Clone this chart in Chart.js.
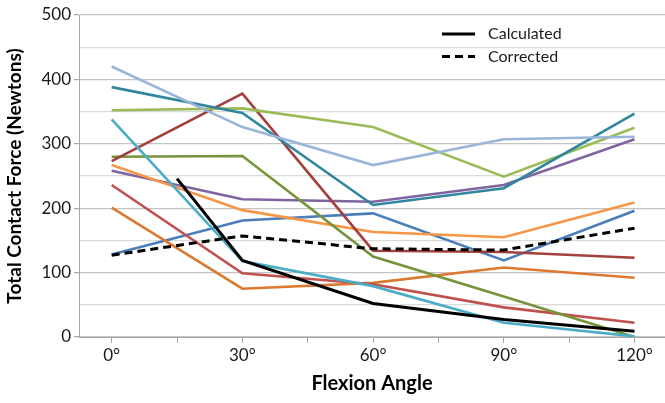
<!DOCTYPE html>
<html>
<head>
<meta charset="utf-8">
<script src="https://cdn.jsdelivr.net/npm/chart.js@4"></script>
<style>
  html, body { margin: 0; padding: 0; background: #ffffff; }
  #wrap { width: 665px; height: 403px; }
</style>
</head>
<body>
<div id="wrap"><canvas id="c" width="665" height="403"></canvas></div>
<script>
// ---- data ----
const angles = [0, 30, 60, 90, 120];
const calculatedAngles = [15, 30, 60, 90, 120];
const calculated = [246, 119, 52, 27, 9];
const corrected = [127, 157, 137, 135, 169];
const lavender = [420, 326, 267, 307, 311];
const teal = [388, 348, 205, 231, 347];
const yellowGreen = [352, 355, 326, 249, 325];
const cyan = [338, 118, 79, 22, 1];
const darkRed = [273, 378, 134, 132, 123];
const olive = [280, 281, 125, 63, 0];
const orange = [267, 197, 163, 155, 209];
const purple = [258, 214, 210, 236, 307];
const red = [236, 99, 82, 46, 22];
const darkOrange = [201, 75, 84, 108, 92];
const blue = [128, 181, 192, 119, 196];
const yTickValues = [0, 100, 200, 300, 400, 500];
const xTickValues = [0, 30, 60, 90, 120];

function pts(xs, ys) { return ys.map((y, i) => ({ x: xs[i], y: y })); }

const subjectSeries = [
  ['Subject 1', lavender, '#9AB5DA'],
  ['Subject 2', teal, '#31869E'],
  ['Subject 3', yellowGreen, '#9BBB59'],
  ['Subject 4', cyan, '#4BACC6'],
  ['Subject 5', darkRed, '#A33F3C'],
  ['Subject 6', olive, '#77933C'],
  ['Subject 7', orange, '#F79646'],
  ['Subject 8', purple, '#8064A2'],
  ['Subject 9', red, '#C0504D'],
  ['Subject 10', darkOrange, '#DB7A30'],
  ['Subject 11', blue, '#4A7EBB']
];

const datasets = [
  { label: 'Calculated', data: pts(calculatedAngles, calculated), borderColor: '#000000', borderWidth: 3, legend: true },
  { label: 'Corrected', data: pts(angles, corrected), borderColor: '#000000', borderWidth: 3, borderDash: [8, 5], legend: true }
].concat(subjectSeries.map(s => ({ label: s[0], data: pts(angles, s[1]), borderColor: s[2], borderWidth: 2.6 })));

datasets.forEach(d => { d.pointRadius = 0; d.tension = 0; d.fill = false; d.borderCapStyle = 'butt'; });

const legendPlugin = {
  id: 'insideLegend',
  afterDatasetsDraw(chart) {
    const ctx = chart.ctx;
    const items = chart.data.datasets.filter(d => d.legend);
    items.forEach((d, i) => {
      const y = 34 + i * 22.5;
      ctx.save();
      ctx.strokeStyle = d.borderColor;
      ctx.lineWidth = 3;
      ctx.setLineDash(d.borderDash || []);
      ctx.beginPath();
      ctx.moveTo(442, y);
      ctx.lineTo(475, y);
      ctx.stroke();
      ctx.setLineDash([]);
      ctx.fillStyle = '#1a1a1a';
      ctx.font = '16px Lato';
      ctx.textBaseline = 'middle';
      ctx.fillText(d.label, 488, y);
      ctx.restore();
    });
  }
};

new Chart(document.getElementById('c'), {
  type: 'line',
  data: { datasets: datasets },
  plugins: [legendPlugin],
  options: {
    responsive: false,
    animation: false,
    events: [],
    layout: { padding: { top: 15, right: 0, left: 3, bottom: 0 } },
    plugins: { legend: { display: false }, tooltip: { enabled: false } },
    scales: {
      x: {
        type: 'linear',
        min: -7.5,
        max: 127,
        afterBuildTicks(scale) {
          const t = [];
          for (let v = 0; v <= 120; v += 15) t.push({ value: v });
          scale.ticks = t;
        },
        afterFit(scale) { scale.height = 66; },
        border: { display: true, color: '#A6A6A6', width: 1 },
        grid: { drawOnChartArea: false, drawTicks: true, tickLength: 6, color: '#A6A6A6' },
        ticks: {
          autoSkip: false,
          maxRotation: 0,
          padding: 2,
          color: '#1a1a1a',
          font: { family: 'Lato', size: 17 },
          callback: v => (xTickValues.includes(v) ? v + '°' : '')
        },
        title: {
          display: true,
          text: 'Flexion Angle',
          color: '#000000',
          font: { family: 'Lato', size: 20, weight: 'bold' },
          padding: { top: 2, bottom: 7 }
        }
      },
      y: {
        min: 0,
        max: 500,
        afterBuildTicks(scale) {
          const t = [];
          for (let v = 0; v <= 500; v += 50) t.push({ value: v });
          scale.ticks = t;
        },
        afterFit(scale) { scale.width = 76; },
        border: { display: true, color: '#A6A6A6', width: 1 },
        grid: {
          drawTicks: true,
          tickLength: 5,
          color: ctx => (ctx.tick && ctx.tick.value % 100 === 0 ? '#C4C4C4' : '#DADADA'),
          tickColor: ctx => (ctx.tick && ctx.tick.value % 100 === 0 ? '#A6A6A6' : 'rgba(0,0,0,0)'),
          lineWidth: 1.2
        },
        ticks: {
          autoSkip: false,
          padding: 3,
          color: '#1a1a1a',
          font: { family: 'Lato', size: 17 },
          callback: v => (yTickValues.includes(v) ? String(v) : '')
        },
        title: {
          display: true,
          text: 'Total Contact Force (Newtons)',
          color: '#000000',
          font: { family: 'Lato', size: 19, weight: 'bold' },
          padding: { top: 0, bottom: 2 }
        }
      }
    }
  }
});
</script>
</body>
</html>
